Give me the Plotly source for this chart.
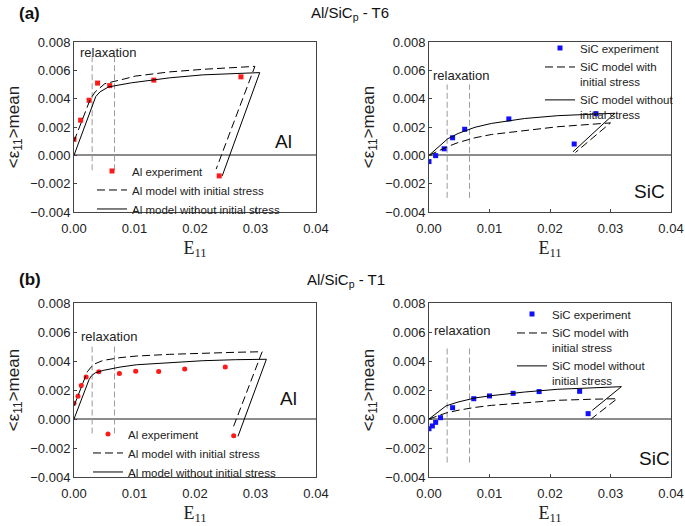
import plotly.graph_objects as go

# ---------------- data ----------------
# T6 - Al
al_t6_exp_x = [0.0, 0.0011, 0.0025, 0.0039, 0.0059, 0.0132, 0.0276, 0.0240]
al_t6_exp_y = [0.00113, 0.00248, 0.00389, 0.0051, 0.00492, 0.00531, 0.00554, -0.00145]
al_t6_with_x = [0.0, 0.0027, 0.0035, 0.0051, 0.0084, 0.0101, 0.0158, 0.0213, 0.0299, 0.0235]
al_t6_with_y = [0.0010, 0.00397, 0.00448, 0.00506, 0.0054, 0.00559, 0.00589, 0.00607, 0.00628, -0.00097]
al_t6_wo_x = [0.0, 0.0032, 0.0036, 0.0043, 0.0057, 0.0095, 0.0158, 0.0213, 0.0300, 0.0307, 0.0245]
al_t6_wo_y = [0.0, 0.00368, 0.00415, 0.00448, 0.00483, 0.00512, 0.00547, 0.00568, 0.00582, 0.00584, -0.00145]

# T6 - SiC
sic_t6_exp_x = [0.0, 0.0011, 0.0025, 0.0039, 0.0059, 0.0132, 0.0276, 0.0240]
sic_t6_exp_y = [-0.00044, -0.00002, 0.00046, 0.00124, 0.00184, 0.00257, 0.00294, 0.0008]
sic_t6_with_x = [0.0, 0.0031, 0.0048, 0.0076, 0.0103, 0.0158, 0.0213, 0.0300, 0.0242]
sic_t6_with_y = [0.0, 0.00062, 0.0009, 0.00124, 0.00147, 0.00177, 0.00202, 0.00229, 0.0002]
sic_t6_wo_x = [0.0, 0.0031, 0.0048, 0.0076, 0.0103, 0.0158, 0.0213, 0.0276, 0.0307, 0.0238]
sic_t6_wo_y = [0.0, 0.00117, 0.00154, 0.00198, 0.00225, 0.0026, 0.0028, 0.00292, 0.00297, 0.00025]

# T1 - Al
al_t1_exp_x = [0.0, 0.00066, 0.0012, 0.0020, 0.0041, 0.0075, 0.0102, 0.0140, 0.0183, 0.0250, 0.0264]
al_t1_exp_y = [0.00109, 0.00157, 0.00231, 0.00289, 0.00326, 0.00314, 0.0033, 0.00328, 0.00344, 0.00358, -0.00115]
al_t1_with_x = [0.0, 0.0022, 0.0032, 0.0048, 0.0076, 0.0103, 0.0158, 0.0213, 0.0267, 0.0311, 0.0262]
al_t1_with_y = [0.0009, 0.00326, 0.00376, 0.00404, 0.00423, 0.00434, 0.00446, 0.00455, 0.0046, 0.00464, -0.0007]
al_t1_wo_x = [0.0, 0.0025, 0.0029, 0.0035, 0.0048, 0.0076, 0.0103, 0.0158, 0.0213, 0.0267, 0.0318, 0.0271]
al_t1_wo_y = [0.0, 0.00273, 0.00298, 0.00318, 0.00335, 0.00358, 0.00374, 0.0039, 0.00402, 0.00409, 0.00412, -0.0012]

# T1 - SiC
sic_t1_exp_x = [0.0, 0.00055, 0.0011, 0.0019, 0.0039, 0.0074, 0.0100, 0.0139, 0.0182, 0.0249, 0.0263]
sic_t1_exp_y = [-0.00067, -0.00048, -0.00023, 0.00009, 0.00078, 0.0014, 0.00159, 0.00177, 0.00189, 0.00191, 0.00037]
sic_t1_with_x = [0.0, 0.0028, 0.0048, 0.0076, 0.0103, 0.0158, 0.0213, 0.0267, 0.0311, 0.0268]
sic_t1_with_y = [0.0, 0.00041, 0.0006, 0.0008, 0.00094, 0.00113, 0.00129, 0.00136, 0.0014, 0.0]
sic_t1_wo_x = [0.0, 0.0015, 0.0028, 0.0048, 0.0076, 0.0103, 0.0158, 0.0213, 0.0267, 0.0318, 0.0270]
sic_t1_wo_y = [0.0, 0.00048, 0.0009, 0.00117, 0.00145, 0.00161, 0.00186, 0.00205, 0.00216, 0.00223, 0.0006]

# relaxation window (E11) and vertical extent of the guide lines per panel
relax_x = [0.0030, 0.0067]
relax_span = {"tl": [-0.00105, 0.0070], "tr": [-0.0030, 0.0050],
              "bl": [-0.0010, 0.0051], "br": [-0.0030, 0.0050]}
exp_err = 0.00008

x_ticks = [0.0, 0.01, 0.02, 0.03, 0.04]
y_ticks = [-0.004, -0.002, 0.0, 0.002, 0.004, 0.006, 0.008]

RED = "#ff1a1a"
BLUE = "#1010ff"
FONT = "Arial, Liberation Sans, sans-serif"

panels = [
    dict(key="tl", xa="x", ya="y", leg="legend", mat="Al", color=RED, sym="square",
         ex=al_t6_exp_x, ey=al_t6_exp_y, wx=al_t6_with_x, wy=al_t6_with_y,
         ox=al_t6_wo_x, oy=al_t6_wo_y,
         names=["Al experiment", "Al model with initial stress", "Al model without initial stress"]),
    dict(key="tr", xa="x2", ya="y2", leg="legend2", mat="SiC", color=BLUE, sym="square",
         ex=sic_t6_exp_x, ey=sic_t6_exp_y, wx=sic_t6_with_x, wy=sic_t6_with_y,
         ox=sic_t6_wo_x, oy=sic_t6_wo_y,
         names=["SiC experiment", "SiC model with<br>initial stress", "SiC model without<br>initial stress"]),
    dict(key="bl", xa="x3", ya="y3", leg="legend3", mat="Al", color=RED, sym="circle",
         ex=al_t1_exp_x, ey=al_t1_exp_y, wx=al_t1_with_x, wy=al_t1_with_y,
         ox=al_t1_wo_x, oy=al_t1_wo_y,
         names=["Al experiment", "Al model with initial stress", "Al model without initial stress"]),
    dict(key="br", xa="x4", ya="y4", leg="legend4", mat="SiC", color=BLUE, sym="square",
         ex=sic_t1_exp_x, ey=sic_t1_exp_y, wx=sic_t1_with_x, wy=sic_t1_with_y,
         ox=sic_t1_wo_x, oy=sic_t1_wo_y,
         names=["SiC experiment", "SiC model with<br>initial stress", "SiC model without<br>initial stress"]),
]

fig = go.Figure()
for p in panels:
    lo, hi = relax_span[p["key"]]
    rx, ry = [], []
    for v in relax_x:
        rx += [v, v, None]
        ry += [lo, hi, None]
    fig.add_trace(go.Scatter(x=rx, y=ry, mode="lines", xaxis=p["xa"], yaxis=p["ya"],
                             line=dict(color="#9a9a9a", width=1, dash="6px,3px"),
                             showlegend=False, hoverinfo="skip"))
    fig.add_trace(go.Scatter(x=p["ex"], y=p["ey"], mode="markers", name=p["names"][0],
                             xaxis=p["xa"], yaxis=p["ya"], legend=p["leg"],
                             marker=dict(color=p["color"], size=5, symbol=p["sym"]),
                             error_y=dict(type="constant", value=exp_err, color=p["color"],
                                          thickness=1, width=2)))
    fig.add_trace(go.Scatter(x=p["wx"], y=p["wy"], mode="lines", name=p["names"][1],
                             xaxis=p["xa"], yaxis=p["ya"], legend=p["leg"],
                             line=dict(color="black", width=1, dash="8px,4px")))
    fig.add_trace(go.Scatter(x=p["ox"], y=p["oy"], mode="lines", name=p["names"][2],
                             xaxis=p["xa"], yaxis=p["ya"], legend=p["leg"],
                             line=dict(color="black", width=1)))

W, H = 685, 526
def px_x(a, b):
    return [a / W, b / W]
def px_y(top, bottom):
    return [1 - bottom / H, 1 - top / H]

doms = {
    "tl": (px_x(74, 316), px_y(42, 212)),
    "tr": (px_x(429, 671), px_y(42, 212)),
    "bl": (px_x(74, 316), px_y(303, 477)),
    "br": (px_x(429, 671), px_y(303, 477)),
}

ytitle = "&lt;ε<sub>11</sub>&gt;mean"
layout_axes = {}
for i, p in enumerate(panels):
    sfx = "" if i == 0 else str(i + 1)
    dx, dy = doms[p["key"]]
    layout_axes["xaxis" + sfx] = dict(
        domain=dx, range=[0, 0.04], tickvals=x_ticks, tickformat=".2f",
        showline=True, mirror=True, linecolor="#444", linewidth=1,
        ticks="inside", ticklen=3, tickcolor="#444", showgrid=False, zeroline=False,
        automargin=False, ticklabelstandoff=4,
        tickfont=dict(size=13, color="#222", family=FONT),
        title=dict(text="E<sub>11</sub>", font=dict(size=18, family="Liberation Serif, Times New Roman, serif", color="#222"),
                   standoff=6),
        anchor="y" + sfx, fixedrange=True)
    layout_axes["yaxis" + sfx] = dict(
        domain=dy, range=[-0.004, 0.008], tickvals=y_ticks, tickformat=".3f",
        showline=True, mirror=True, linecolor="#444", linewidth=1,
        ticks="inside", ticklen=3, tickcolor="#444", showgrid=False,
        zeroline=True, zerolinecolor="#8c8c8c", zerolinewidth=2,
        automargin=False,
        tickfont=dict(size=13, color="#222", family=FONT),
        title=dict(text=ytitle, font=dict(size=17, family=FONT, color="#222"), standoff=6),
        anchor="x" + sfx, fixedrange=True)

annotations = []
annotations += [
    dict(text="<b>(a)</b>", x=17 / W, y=1 - 13 / H, xref="paper", yref="paper",
         xanchor="left", yanchor="middle", showarrow=False, font=dict(size=17, family=FONT, color="#111")),
    dict(text="Al/SiC<sub>p</sub> - T6", x=350 / W, y=1 - 13 / H, xref="paper", yref="paper",
         xanchor="center", yanchor="middle", showarrow=False, font=dict(size=15, family=FONT, color="#111")),
    dict(text="<b>(b)</b>", x=17 / W, y=1 - 279 / H, xref="paper", yref="paper",
         xanchor="left", yanchor="middle", showarrow=False, font=dict(size=17, family=FONT, color="#111")),
    dict(text="Al/SiC<sub>p</sub> - T1", x=346 / W, y=1 - 280 / H, xref="paper", yref="paper",
         xanchor="center", yanchor="middle", showarrow=False, font=dict(size=15, family=FONT, color="#111")),
]
relax_pos = {"tl": (0.0056, 0.00724), "tr": (0.0053, 0.00566), "bl": (0.0058, 0.00572), "br": (0.0055, 0.00607)}
mat_pos = {"tl": (0.0347, 0.0010), "tr": (0.0365, -0.00255), "bl": (0.0354, 0.00138), "br": (0.0372, -0.0027)}
for i, p in enumerate(panels):
    sfx = "" if i == 0 else str(i + 1)
    rx, ry = relax_pos[p["key"]]
    annotations.append(dict(text="relaxation", x=rx, y=ry, xref="x" + sfx, yref="y" + sfx,
                            showarrow=False, font=dict(size=13, family=FONT, color="#222")))
    mx, my = mat_pos[p["key"]]
    annotations.append(dict(text=p["mat"], x=mx, y=my, xref="x" + sfx, yref="y" + sfx,
                            showarrow=False, font=dict(size=19, family=FONT, color="#111")))

def leg(textleft, top):
    return dict(x=(textleft - 40) / W, y=1 - top / H, xanchor="left", yanchor="top",
                bgcolor="rgba(0,0,0,0)", font=dict(size=11.5, family=FONT, color="#222"),
                valign="top", tracegroupgap=0, itemwidth=30)

fig.update_layout(
    width=W, height=H, margin=dict(l=0, r=0, t=0, b=0, autoexpand=False),
    paper_bgcolor="white", plot_bgcolor="white",
    font=dict(family=FONT, color="#222"),
    annotations=annotations,
    legend=leg(132, 157),
    legend2=leg(580, 34),
    legend3=leg(128, 420),
    legend4=leg(552, 300),
    **layout_axes,
)

fig.write_html("out.html", config={"displayModeBar": False},
               post_script="document.body.style.margin='0px';")
